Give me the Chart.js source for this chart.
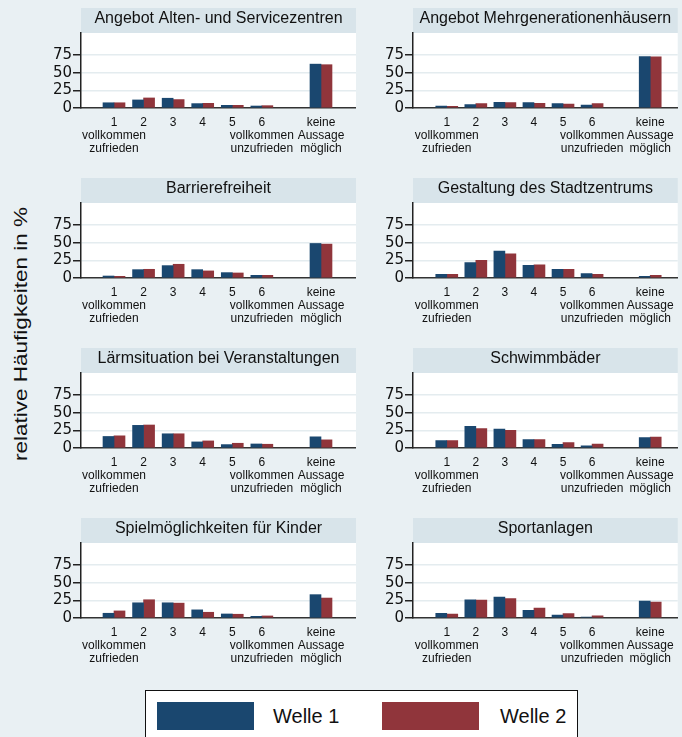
<!DOCTYPE html>
<html>
<head>
<meta charset="utf-8">
<script src="https://cdn.jsdelivr.net/npm/chart.js"></script>
<style>
  body { margin: 0; width: 682px; height: 737px; overflow: hidden; background: #e9f0f3; position: relative; font-family: "Liberation Sans", Arial, sans-serif; }
  .panel { position: absolute; }
  .ytitle { position: absolute; left: 21px; top: 334px; transform: translate(-50%, -50%) rotate(-90deg) scaleX(1.25); white-space: nowrap; font-size: 18px; color: #111; }
  .legend { position: absolute; left: 145px; top: 690px; width: 433px; height: 52px; background: #fff; border: 1px solid #111; box-sizing: border-box; }
  .legend .sw { position: absolute; top: 11px; width: 97px; height: 28px; }
  .legend .lab { position: absolute; top: 14px; font-size: 20px; color: #111; }
</style>
</head>
<body>
<div class="ytitle">relative Häufigkeiten in %</div>
<div class="legend" id="legend"></div>

<script>
// Daten (relative Häufigkeiten in %)
const panelTitles = [
    'Angebot Alten- und Servicezentren', 'Angebot Mehrgenerationenhäusern',
    'Barrierefreiheit', 'Gestaltung des Stadtzentrums',
    'Lärmsituation bei Veranstaltungen', 'Schwimmbäder',
    'Spielmöglichkeiten für Kinder', 'Sportanlagen'
];
// Kategorien 1..6, Lücke, "keine Aussage möglich"
const catPositions = [1, 2, 3, 4, 5, 6, 8];
const tickLabels = [
    ['1', 'vollkommen', 'zufrieden'], ['2'], ['3'], ['4'], ['5'],
    ['6', 'vollkommen', 'unzufrieden'], ['keine', 'Aussage', 'möglich']
];
const welle1 = [
    [7.4, 11.4, 13.8, 6.2, 3.8, 2.8, 62.0],
    [2.8, 4.7, 8.0, 7.5, 6.1, 4.2, 72.6],
    [2.8, 11.8, 17.5, 11.8, 7.6, 3.8, 48.8],
    [5.2, 21.8, 37.9, 18.0, 12.3, 6.2, 2.4],
    [16.3, 32.0, 20.1, 8.6, 4.8, 5.7, 15.8],
    [10.5, 30.6, 26.8, 12.0, 5.3, 2.9, 14.8],
    [6.7, 21.5, 21.5, 11.5, 5.7, 2.4, 33.0],
    [6.7, 25.8, 29.7, 11.0, 4.3, 1.4, 23.9]
];
const welle2 = [
    [7.4, 14.2, 11.9, 6.6, 3.8, 3.3, 61.2],
    [2.4, 6.1, 7.5, 6.6, 5.7, 6.1, 72.2],
    [2.4, 12.3, 19.4, 10.0, 7.1, 3.8, 47.9],
    [5.2, 25.1, 34.1, 18.5, 12.3, 5.2, 3.8],
    [17.2, 32.5, 20.1, 10.0, 6.7, 5.3, 11.5],
    [10.5, 27.3, 24.9, 12.0, 7.7, 5.7, 15.3],
    [10.0, 25.8, 21.0, 8.1, 5.3, 2.9, 28.2],
    [5.7, 25.4, 27.3, 13.9, 6.2, 2.9, 22.5]
];
const seriesNames = ['Welle 1', 'Welle 2'];
const seriesColors = ['#1a476f', '#90353b'];
const yTicks = [0, 25, 50, 75];

const rowTops = [8, 178, 348, 518];
const bandColor = '#d8e4ea';

// Titelband + weisse Plotfläche
const titleBand = {
    id: 'titleBand',
    beforeDraw(chart) {
        const {ctx, chartArea, titleBlock} = chart;
        const w = chartArea.right - chartArea.left;
        ctx.save();
        ctx.fillStyle = bandColor;
        ctx.fillRect(chartArea.left, titleBlock.top, w, titleBlock.bottom - titleBlock.top);
        ctx.fillStyle = '#ffffff';
        ctx.fillRect(chartArea.left, chartArea.top, w, chartArea.bottom - chartArea.top);
        ctx.restore();
    }
};

function makePanel(i) {
    const col = i % 2;
    const row = Math.floor(i / 2);
    const left = col === 0 ? 40 : 372;
    const width = col === 0 ? 316 : 310;
    const xMin = col === 0 ? -0.116 : -0.162;
    const xMax = col === 0 ? 9.184 : 8.947;

    const div = document.createElement('div');
    div.className = 'panel';
    div.style.left = left + 'px';
    div.style.top = rowTops[row] + 'px';
    const canvas = document.createElement('canvas');
    canvas.width = width;
    canvas.height = 150;
    div.appendChild(canvas);
    document.body.appendChild(div);

    const datasets = [welle1[i], welle2[i]].map((vals, k) => ({
        label: seriesNames[k],
        data: catPositions.map((x, j) => ({x: x, y: vals[j]})),
        backgroundColor: seriesColors[k],
        borderWidth: 0,
        barThickness: 11
    }));

    new Chart(canvas, {
        type: 'bar',
        data: {datasets: datasets},
        options: {
            responsive: false,
            animation: false,
            devicePixelRatio: 1,
            layout: {padding: 0},
            plugins: {
                legend: {display: false},
                tooltip: {enabled: false},
                title: {
                    display: true,
                    text: panelTitles[i],
                    fullSize: false,
                    color: '#111',
                    font: {family: 'Liberation Sans', size: 16, weight: 'normal', lineHeight: 1},
                    padding: {top: 3, bottom: 6}
                }
            },
            scales: {
                x: {
                    type: 'linear',
                    min: xMin,
                    max: xMax,
                    offset: false,
                    grid: {display: false, drawTicks: false},
                    border: {display: true, color: '#333', width: 1.5},
                    afterBuildTicks: s => { s.ticks = catPositions.map(v => ({value: v})); },
                    afterFit: s => { s.height = 50; },
                    ticks: {
                        autoSkip: false,
                        maxRotation: 0,
                        padding: 8,
                        color: '#111',
                        font: {family: 'Liberation Sans', size: 12, lineHeight: 1.08},
                        callback: v => {
                            const j = catPositions.indexOf(v);
                            return j >= 0 ? tickLabels[j] : '';
                        }
                    }
                },
                y: {
                    min: 0,
                    max: 106,
                    grid: {color: '#e4ecef', lineWidth: 1.5, tickColor: '#222', tickLength: 8},
                    border: {display: true, color: '#222', width: 1.5},
                    afterBuildTicks: s => { s.ticks = yTicks.map(v => ({value: v})); },
                    afterFit: s => { s.width = 41; },
                    ticks: {
                        padding: 1,
                        color: '#111',
                        font: {family: 'DejaVu Sans', size: 15}
                    }
                }
            }
        },
        plugins: [titleBand]
    });
}

for (let i = 0; i < panelTitles.length; i++) {
    makePanel(i);
}

// Legende
const legend = document.getElementById('legend');
const legendX = [[11, 127], [236, 354]];
seriesNames.forEach((name, k) => {
    const sw = document.createElement('div');
    sw.className = 'sw';
    sw.style.left = legendX[k][0] + 'px';
    sw.style.background = seriesColors[k];
    legend.appendChild(sw);
    const lab = document.createElement('div');
    lab.className = 'lab';
    lab.style.left = legendX[k][1] + 'px';
    lab.textContent = name;
    legend.appendChild(lab);
});
</script>
</body>
</html>
